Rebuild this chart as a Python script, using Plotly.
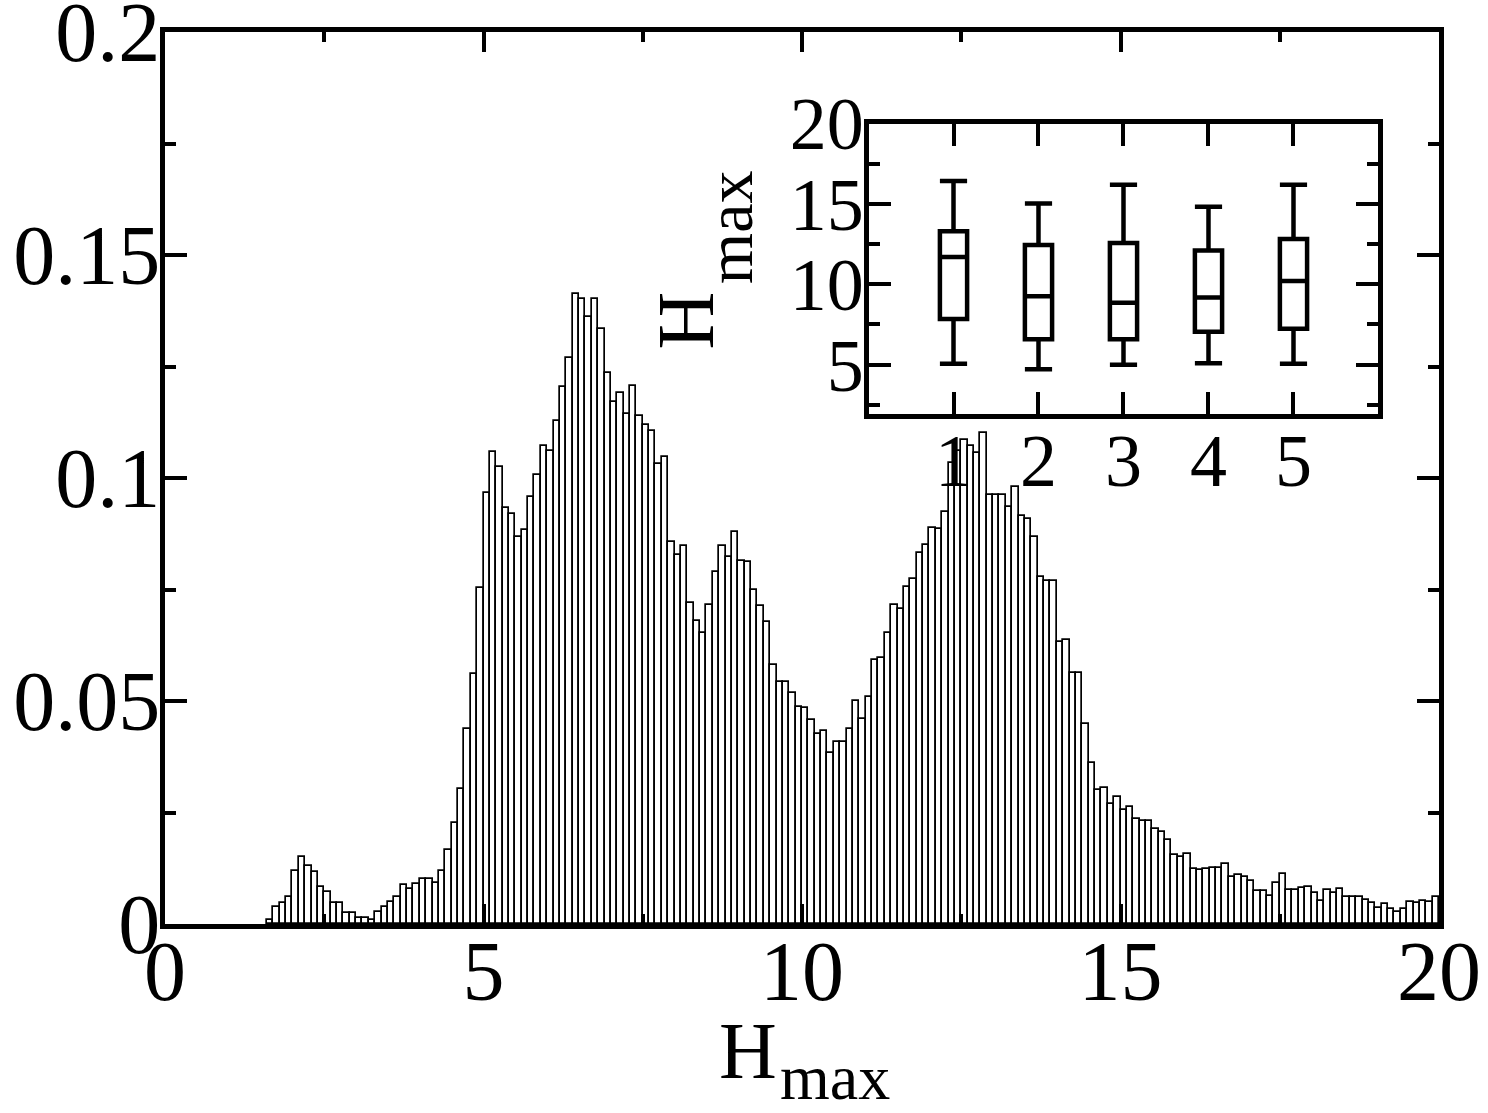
import numpy as np
import plotly.graph_objects as go

# ---------------- data ----------------
# histogram of H_max: bins of width 0.1, first bin starts at 1.6 (bins below are empty)
bin_width = 0.1
first_bin_left = 1.6
density = [
    0.0009, 0.0038, 0.0046, 0.0061, 0.0118, 0.0151, 0.0130, 0.0117, 0.0083, 0.0071,  # 1.6-2.5
    0.0046, 0.0046, 0.0024, 0.0025, 0.0013, 0.0013, 0.0009, 0.0028, 0.0039, 0.0049,  # 2.6-3.5
    0.0060, 0.0087, 0.0079, 0.0090, 0.0102, 0.0102, 0.0091, 0.0118, 0.0167, 0.0227,  # 3.6-4.5
    0.0303, 0.0438, 0.0560, 0.0753, 0.0966, 0.1059, 0.1025, 0.0932, 0.0919, 0.0867,  # 4.6-5.5
    0.0883, 0.0958, 0.1007, 0.1072, 0.1060, 0.1128, 0.1203, 0.1270, 0.1412, 0.1401,  # 5.6-6.5
    0.1360, 0.1402, 0.1333, 0.1236, 0.1171, 0.1190, 0.1143, 0.1206, 0.1139, 0.1119,  # 6.6-7.5
    0.1106, 0.1031, 0.1048, 0.0857, 0.0827, 0.0847, 0.0719, 0.0680, 0.0653, 0.0716,  # 7.6-8.5
    0.0789, 0.0847, 0.0822, 0.0879, 0.0815, 0.0812, 0.0748, 0.0712, 0.0678, 0.0580,  # 8.6-9.5
    0.0543, 0.0543, 0.0519, 0.0487, 0.0484, 0.0457, 0.0426, 0.0433, 0.0384, 0.0407,  # 9.6-10.5
    0.0409, 0.0438, 0.0500, 0.0460, 0.0508, 0.0592, 0.0596, 0.0653, 0.0715, 0.0707,  # 10.6-11.5
    0.0756, 0.0773, 0.0832, 0.0850, 0.0889, 0.0886, 0.0924, 0.1033, 0.1060, 0.1085,  # 11.6-12.5
    0.1072, 0.1055, 0.1100, 0.0962, 0.0962, 0.0962, 0.0936, 0.0980, 0.0915, 0.0909,  # 12.6-13.5
    0.0868, 0.0779, 0.0770, 0.0770, 0.0633, 0.0637, 0.0563, 0.0562, 0.0448, 0.0362,  # 13.6-14.5
    0.0300, 0.0306, 0.0270, 0.0285, 0.0255, 0.0262, 0.0235, 0.0230, 0.0232, 0.0213,  # 14.6-15.5
    0.0207, 0.0188, 0.0154, 0.0150, 0.0158, 0.0124, 0.0120, 0.0123, 0.0125, 0.0125,  # 15.6-16.5
    0.0134, 0.0105, 0.0110, 0.0105, 0.0097, 0.0074, 0.0074, 0.0063, 0.0091, 0.0113,  # 16.6-17.5
    0.0076, 0.0076, 0.0081, 0.0083, 0.0070, 0.0052, 0.0076, 0.0069, 0.0079, 0.0060,  # 17.6-18.5
    0.0061, 0.0061, 0.0054, 0.0048, 0.0037, 0.0045, 0.0034, 0.0027, 0.0034, 0.0049,  # 18.6-19.5
    0.0046, 0.0052, 0.0050, 0.0060,                                                  # 19.6-19.9
]
bin_centers = np.round(first_bin_left + bin_width * (np.arange(len(density)) + 0.5), 3)

# inset box plot (H_max per group)
groups = [1, 2, 3, 4, 5]
whisker_low = [5.05, 4.72, 4.99, 5.09, 5.05]
box_q1 = [7.84, 6.58, 6.58, 7.05, 7.24]
box_median = [11.69, 9.26, 8.85, 9.18, 10.21]
box_q3 = [13.30, 12.45, 12.56, 12.10, 12.82]
whisker_high = [16.43, 15.03, 16.19, 14.82, 16.19]

main_xticks = [0, 5, 10, 15, 20]
main_yticks = [0, 0.05, 0.1, 0.15, 0.2]
main_yticktext = ["0", "0.05", "0.1", "0.15", "0.2"]
inset_yticks = [5, 10, 15, 20]
inset_yminor = [2.5, 7.5, 12.5, 17.5]

# ---------------- figure ----------------
FONT = "Liberation Serif"
fig = go.Figure()

fig.add_trace(go.Bar(
    x=bin_centers, y=density, width=bin_width,
    marker=dict(color="white", line=dict(color="black", width=1.7)),
    xaxis="x", yaxis="y", showlegend=False,
))

for i, g in enumerate(groups):
    fig.add_trace(go.Box(
        x=[g], q1=[box_q1[i]], median=[box_median[i]], q3=[box_q3[i]],
        lowerfence=[whisker_low[i]], upperfence=[whisker_high[i]],
        width=0.32, whiskerwidth=1, boxpoints=False,
        line=dict(color="black", width=4.5), fillcolor="white",
        xaxis="x2", yaxis="y2", showlegend=False,
    ))

axis_common = dict(
    showline=True, linecolor="black", linewidth=5, mirror="ticks",
    ticks="inside", tickcolor="black", tickwidth=4,
    showgrid=False, zeroline=False, automargin=False,
    ticklabeloverflow="allow",
)

def ann(text, x, y, size, angle=0):
    return dict(text=text, xref="paper", yref="paper", x=x, y=y,
                xanchor="center", yanchor="middle", showarrow=False,
                textangle=angle, borderpad=0,
                font=dict(family=FONT, size=size, color="black"))

fig.update_layout(
    width=1488, height=1113,
    margin=dict(l=165, r=49, t=32, b=189, autoexpand=False),
    paper_bgcolor="white", plot_bgcolor="white",
    bargap=0, showlegend=False,
    font=dict(family=FONT, color="black"),
    xaxis=dict(
        **axis_common, range=[0, 20], tickvals=main_xticks, ticklen=20,
        minor=dict(dtick=2.5, tick0=0, ticks="inside", ticklen=10, tickwidth=4, tickcolor="black"),
        tickfont=dict(family=FONT, size=84, color="black"), ticklabelstandoff=-30,
        domain=[0, 1], anchor="y",
    ),
    yaxis=dict(
        **axis_common, range=[0, 0.2], tickvals=main_yticks,
        ticktext=main_yticktext, ticklen=22,
        minor=dict(dtick=0.025, tick0=0, ticks="inside", ticklen=11, tickwidth=4, tickcolor="black"),
        tickfont=dict(family=FONT, size=84, color="black"), ticklabelstandoff=-17,
        domain=[0, 1], anchor="x",
    ),
    xaxis2=dict(
        **axis_common, range=[0, 6], tickvals=groups, ticklen=22,
        tickfont=dict(family=FONT, size=74, color="black"), ticklabelstandoff=-22,
        domain=[0.5522, 0.9525], anchor="y2",
    ),
    yaxis2=dict(
        **axis_common, range=[1.9, 20], tickvals=inset_yticks, ticklen=22,
        minor=dict(tickvals=inset_yminor, ticks="inside", ticklen=11, tickwidth=4, tickcolor="black"),
        tickfont=dict(family=FONT, size=74, color="black"), ticklabelstandoff=-15,
        domain=[0.5712, 0.8974], anchor="x2",
    ),
    annotations=[
        # main x-axis title: H with subscript "max"
        ann("H", 0.4576, -0.1420, 80),
        ann("max", 0.5259, -0.1720, 64),
        # inset y-axis title (rotated)
        ann("H", 0.4093, 0.6771, 80, -90),
        ann("max", 0.4432, 0.7808, 66, -90),
    ],
)

fig.write_html("out.html")
